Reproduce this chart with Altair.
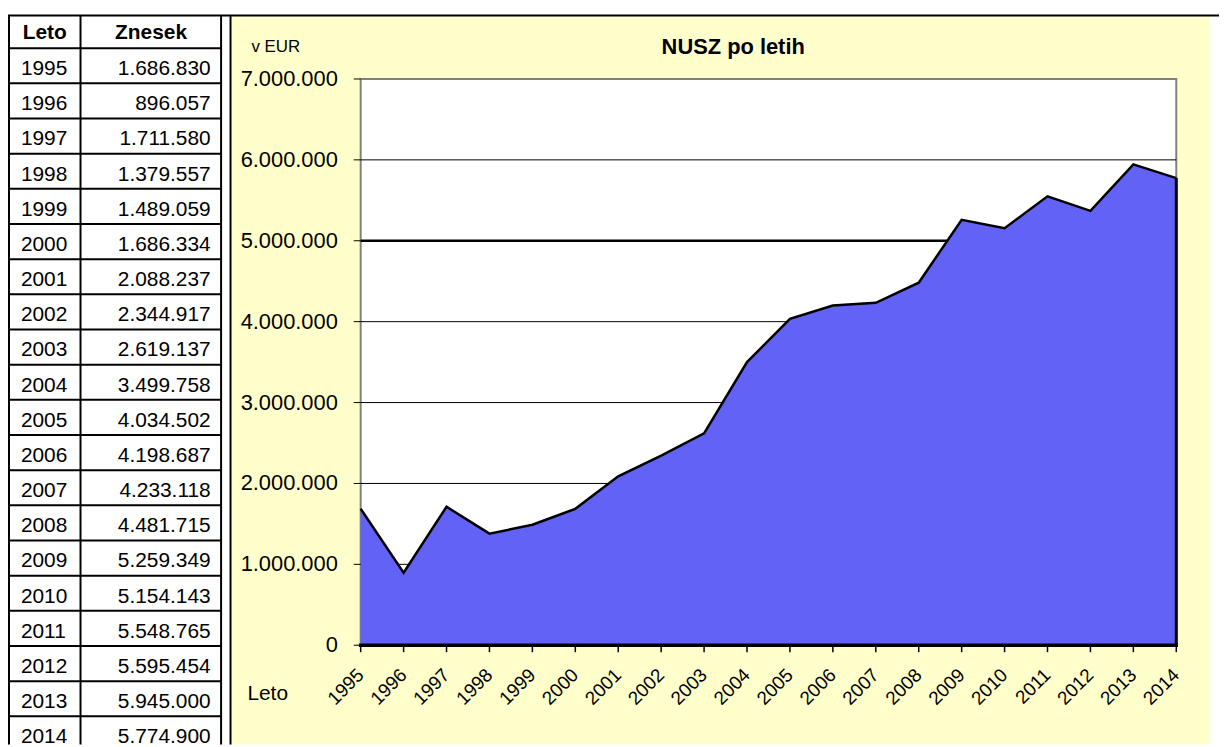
import altair as alt
import pandas as pd

# ---------------- data ----------------
years = [1995, 1996, 1997, 1998, 1999, 2000, 2001, 2002, 2003, 2004,
         2005, 2006, 2007, 2008, 2009, 2010, 2011, 2012, 2013, 2014]
table_amounts = ["1.686.830", "896.057", "1.711.580", "1.379.557", "1.489.059",
                 "1.686.334", "2.088.237", "2.344.917", "2.619.137", "3.499.758",
                 "4.034.502", "4.198.687", "4.233.118", "4.481.715", "5.259.349",
                 "5.154.143", "5.548.765", "5.595.454", "5.945.000", "5.774.900"]
# values as drawn in the chart (2012 point is drawn lower than the table says)
chart_values = [1686830, 896057, 1711580, 1379557, 1489059,
                1686334, 2088237, 2344917, 2619137, 3499758,
                4034502, 4198687, 4233118, 4481715, 5259349,
                5154143, 5548765, 5370000, 5945000, 5774900]
y_ticks = [0, 1000000, 2000000, 3000000, 4000000, 5000000, 6000000, 7000000]
y_tick_labels = ["0", "1.000.000", "2.000.000", "3.000.000", "4.000.000",
                 "5.000.000", "6.000.000", "7.000.000"]
grid_thin = [1000000, 2000000, 3000000, 4000000, 6000000]
grid_thick = [5000000]
header_labels = ["Leto", "Znesek"]
title_text = "NUSZ po letih"
unit_text = "v EUR"
x_title_text = "Leto"

# ---------------- layout / style ----------------
W, H = 1219, 739
FONT = "Liberation Sans"
BLUE = "#6262f6"
YELLOW = "#FFFFCC"

XS = alt.Scale(domain=[1995, 2014], range=[355, 1176], nice=False, zero=False)
YS = alt.Scale(domain=[0, 7000000], range=[639, 69], nice=False, zero=False)
TY = alt.Scale(domain=[0, 20], range=[38, 746], nice=False, zero=False)

one = pd.DataFrame({"k": [0]})

df_chart = pd.DataFrame({"year": years, "value": chart_values, "base": 0,
                         "label": [str(y) for y in years]})
df_plot = pd.DataFrame({"x0": [years[0]], "x1": [years[-1]], "y0": [0], "y1": [y_ticks[-1]]})
df_gthin = pd.DataFrame({"v": grid_thin, "x0": years[0], "x1": years[-1]})
df_gthick = pd.DataFrame({"v": grid_thick, "x0": years[0], "x1": years[-1]})
df_base = pd.DataFrame({"v": [0], "x0": [years[0]], "x1": [years[-1]]})
df_edge = pd.DataFrame({"x": [years[-1]], "y0": [0], "y1": [chart_values[-1]]})
df_yt = pd.DataFrame({"v": y_ticks, "label": y_tick_labels})
df_table = pd.DataFrame({"row": list(range(len(years))),
                         "year": [str(y) for y in years],
                         "amount": table_amounts})
df_hl = pd.DataFrame({"b": list(range(len(years) + 1))})


def rule_px(x1, x2, y1, y2, color="black", w=2):
    return alt.Chart(one).mark_rule(color=color, strokeWidth=w).encode(
        x=alt.value(x1), x2=alt.value(x2), y=alt.value(y1), y2=alt.value(y2))


def text_px(txt, x, y, size, align="left", bold=False):
    return alt.Chart(one).mark_text(
        text=txt, font=FONT, fontSize=size, align=align, baseline="middle",
        fontWeight="bold" if bold else "normal", color="black"
    ).encode(x=alt.value(x), y=alt.value(y))


# yellow chart background
bg = alt.Chart(one).mark_rect(color=YELLOW).encode(
    x=alt.value(225), x2=alt.value(1210), y=alt.value(6), y2=alt.value(739))

# white plot area with grey border
plot_rect = alt.Chart(df_plot).mark_rect(fill="white", stroke="#808080", strokeWidth=2).encode(
    x=alt.X("x0:Q", scale=XS, axis=None), x2="x1:Q",
    y=alt.Y("y0:Q", scale=YS, axis=None), y2="y1:Q")

grid1 = alt.Chart(df_gthin).mark_rule(color="black", strokeWidth=1).encode(
    x=alt.X("x0:Q", scale=XS, axis=None), x2="x1:Q",
    y=alt.Y("v:Q", scale=YS, axis=None))
grid2 = alt.Chart(df_gthick).mark_rule(color="black", strokeWidth=2.5).encode(
    x=alt.X("x0:Q", scale=XS, axis=None), x2="x1:Q",
    y=alt.Y("v:Q", scale=YS, axis=None))

area = alt.Chart(df_chart).mark_area(color=BLUE, opacity=1).encode(
    x=alt.X("year:Q", scale=XS, axis=None),
    y=alt.Y("value:Q", scale=YS, axis=None), y2="base:Q")
line = alt.Chart(df_chart).mark_line(color="black", strokeWidth=2.5).encode(
    x=alt.X("year:Q", scale=XS, axis=None),
    y=alt.Y("value:Q", scale=YS, axis=None))
edge = alt.Chart(df_edge).mark_rule(color="black", strokeWidth=3).encode(
    x=alt.X("x:Q", scale=XS, axis=None),
    y=alt.Y("y0:Q", scale=YS, axis=None), y2="y1:Q")
baseline = alt.Chart(df_base).mark_rule(color="black", strokeWidth=3.5, strokeCap="square").encode(
    x=alt.X("x0:Q", scale=XS, axis=None), x2="x1:Q",
    y=alt.Y("v:Q", scale=YS, axis=None))

yticks = alt.Chart(df_yt).mark_rule(color="black", strokeWidth=1).encode(
    x=alt.value(348), x2=alt.value(355),
    y=alt.Y("v:Q", scale=YS, axis=None))
ylabels = alt.Chart(df_yt).mark_text(font=FONT, fontSize=22, align="right",
                                     baseline="middle", color="black").encode(
    x=alt.value(332), y=alt.Y("v:Q", scale=YS, axis=None), text="label:N")

xticks = alt.Chart(df_chart).mark_rule(color="black", strokeWidth=1.5).encode(
    x=alt.X("year:Q", scale=XS, axis=None), y=alt.value(639), y2=alt.value(646))
xlabels = alt.Chart(df_chart).mark_text(font=FONT, fontSize=19, align="right",
                                        baseline="middle", angle=315, color="black").encode(
    x=alt.X("year:Q", scale=XS, axis=None), y=alt.value(666), text="label:N")

title = text_px(title_text, 730, 37, 22, align="center", bold=True)
unit = text_px(unit_text, 245, 37, 17)
xtitle = text_px(x_title_text, 241, 688, 21)

# ---------------- table ----------------
hlines = alt.Chart(df_hl).mark_rule(color="black", strokeWidth=2).encode(
    x=alt.value(0), x2=alt.value(215),
    y=alt.Y("b:Q", scale=TY, axis=None))
t_years = alt.Chart(df_table).mark_text(font=FONT, fontSize=21, align="left",
                                        baseline="middle", dy=21, color="black").encode(
    x=alt.value(13), y=alt.Y("row:Q", scale=TY, axis=None), text="year:N")
t_amounts = alt.Chart(df_table).mark_text(font=FONT, fontSize=21, align="right",
                                          baseline="middle", dy=21, color="black").encode(
    x=alt.value(204), y=alt.Y("row:Q", scale=TY, axis=None), text="amount:N")
h1 = text_px(header_labels[0], 37, 23, 21, align="center", bold=True)
h2 = text_px(header_labels[1], 144, 23, 21, align="center", bold=True)

frame = [
    rule_px(0, W, 5, 5, w=2),          # top line
    rule_px(1, 1, 5, H, w=2),          # table left
    rule_px(73, 73, 5, H, w=2),        # table column divider
    rule_px(214.5, 214.5, 5, H, w=2),  # table right
    rule_px(224, 224, 5, H, w=2),      # chart left border
]

chart = alt.layer(
    bg, plot_rect, grid1, grid2, area, line, edge, baseline,
    yticks, ylabels, xticks, xlabels, title, unit, xtitle,
    hlines, t_years, t_amounts, h1, h2, *frame
).resolve_scale(x="independent", y="independent").properties(
    width=W, height=H, padding=0,
    autosize=alt.AutoSizeParams(type="none"),
    background="white"
).configure_view(stroke=None)

chart.save("out.html", embed_options={"renderer": "svg", "actions": False})
